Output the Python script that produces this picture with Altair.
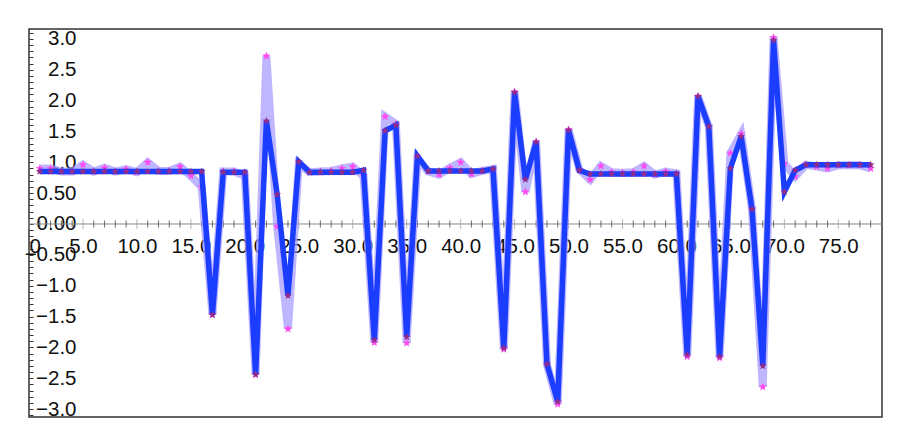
import math
import altair as alt
import pandas as pd

# ---- data ----
x_vals = list(range(1, 79))

blue_vals = [
    0.85, 0.85, 0.85, 0.85, 0.85, 0.85, 0.85, 0.85, 0.85, 0.85,
    0.85, 0.85, 0.85, 0.85, 0.85, 0.85, -1.47, 0.84, 0.84, 0.84,
    -2.44, 1.67, 0.48, -1.16, 1.01, 0.84, 0.84, 0.84, 0.84, 0.84,
    0.87, -1.88, 1.51, 1.60, -1.83, 1.10, 0.86, 0.86, 0.86, 0.86,
    0.86, 0.86, 0.89, -2.01, 2.13, 0.72, 1.33, -2.27, -2.88, 1.52,
    0.87, 0.81, 0.81, 0.81, 0.81, 0.81, 0.81, 0.81, 0.81, 0.81,
    -2.12, 2.07, 1.58, -2.15, 0.90, 1.42, 0.24, -2.30, 2.98, 0.52,
    0.87, 0.96, 0.96, 0.96, 0.96, 0.96, 0.96, 0.96,
]

pink_vals = [
    0.90, 0.90, 0.85, 0.85, 0.96, 0.85, 0.91, 0.85, 0.89, 0.84,
    1.00, 0.86, 0.86, 0.93, 0.78, 0.60, -1.47, 0.85, 0.85, 0.78,
    -2.44, 2.72, -0.04, -1.70, 0.97, 0.84, 0.85, 0.86, 0.90, 0.93,
    0.78, -1.92, 1.74, 1.62, -1.93, 1.06, 0.85, 0.80, 0.91, 1.00,
    0.81, 0.86, 0.89, -2.03, 2.14, 0.52, 1.33, -2.28, -2.92, 1.53,
    0.88, 0.72, 0.94, 0.84, 0.83, 0.84, 0.94, 0.80, 0.85, 0.82,
    -2.15, 2.07, 1.58, -2.17, 1.15, 1.46, 0.25, -2.64, 3.02, 0.98,
    0.77, 0.96, 0.93, 0.90, 0.95, 0.95, 0.95, 0.90,
]

x_label_values = list(range(0, 80, 5))
x_major_ticks = list(range(0, 79, 5))
x_minor_ticks = [i for i in range(0, 79) if i % 5 != 0]
y_tick_values = [round(i / 10, 1) for i in range(-31, 32)]

# ---- layout ----
W, H = 853, 388
X_DOMAIN = [0, 79.05]
Y_DOMAIN = [-3.128, 3.160]
y0 = H * Y_DOMAIN[1] / (Y_DOMAIN[1] - Y_DOMAIN[0])
FONT = "Liberation Sans"

# five-pointed star marker as a custom symbol path
_pts = []
for k in range(10):
    r = 1.0 if k % 2 == 0 else 0.45
    a = -math.pi / 2 + k * math.pi / 5
    _pts.append(f"{r * math.cos(a):.3f},{r * math.sin(a):.3f}")
STAR = "M" + " L".join(_pts) + " Z"

xscale = alt.Scale(domain=X_DOMAIN, nice=False, zero=False)
yscale = alt.Scale(domain=Y_DOMAIN, nice=False, zero=False)

x_axis = alt.Axis(
    orient="bottom", offset=-(H - y0), values=x_label_values,
    labelExpr="datum.value == 0 ? '0' : format(datum.value, '.1f')",
    domain=False, ticks=False, grid=False, title=None,
    labelFontSize=20.5, labelFont=FONT, labelColor="#111",
    labelPadding=13, labelOverlap=False, zindex=0,
)
y_axis = alt.Axis(
    orient="right", offset=-W, values=y_tick_values,
    labelExpr=("abs(datum.value*2 - round(datum.value*2)) < 0.01 ? "
               "(abs(datum.value) < 0.75 ? format(datum.value, '.2f') : format(datum.value, '.1f')) : ''"),
    domain=False, ticks=True, tickSize=4, tickColor="#333", grid=False, title=None,
    labelAlign="right", labelBaseline="middle", labelPadding=43,
    labelFontSize=20.5, labelFont=FONT, labelColor="#111",
    labelOverlap=False, labelFlush=False, zindex=0,
)


def X(f):
    return alt.X(f"{f}:Q", scale=xscale, axis=x_axis)


def Y(f):
    return alt.Y(f"{f}:Q", scale=yscale, axis=y_axis)


df = pd.DataFrame({"x": x_vals, "blue": blue_vals, "pink": pink_vals})
zero_df = pd.DataFrame({"zero": [0]})
minor_df = pd.DataFrame({"x": x_minor_ticks, "zero": [0] * len(x_minor_ticks)})
major_df = pd.DataFrame({"x": x_major_ticks, "zero": [0] * len(x_major_ticks)})

zero_line = alt.Chart(zero_df).mark_rule(color="#8a8a8a", strokeWidth=1).encode(y=Y("zero"))
minor_ticks = alt.Chart(minor_df).mark_tick(orient="vertical", color="#333", size=7, thickness=1).encode(
    x=X("x"), y=Y("zero"))
major_ticks = alt.Chart(major_df).mark_tick(orient="vertical", color="#999", size=10, thickness=1).encode(
    x=X("x"), y=Y("zero"))

base = alt.Chart(df)
pink_line = base.mark_line(color="#a397ff", strokeWidth=8, opacity=0.7).encode(x=X("x"), y=Y("pink"))
pink_pts = base.mark_point(shape=STAR, filled=True, color="#ff4cf2", size=75, opacity=1).encode(
    x=X("x"), y=Y("pink"))
blue_line = base.mark_line(color="#1b3dff", strokeWidth=5.5).encode(x=X("x"), y=Y("blue"))
blue_pts = base.mark_point(shape=STAR, filled=True, color="#922c8c", size=65, opacity=1).encode(
    x=X("x"), y=Y("blue"))

chart = alt.layer(
    zero_line, minor_ticks, major_ticks, pink_line, pink_pts, blue_line, blue_pts
).properties(
    width=W, height=H,
    autosize=alt.AutoSizeParams(type="none"),
    padding={"left": 21, "top": 21, "right": 12, "bottom": 12},
    background="white",
).configure_view(stroke="#333", strokeWidth=1.5)

chart.save("out.html", embed_options={"renderer": "svg", "actions": False})
